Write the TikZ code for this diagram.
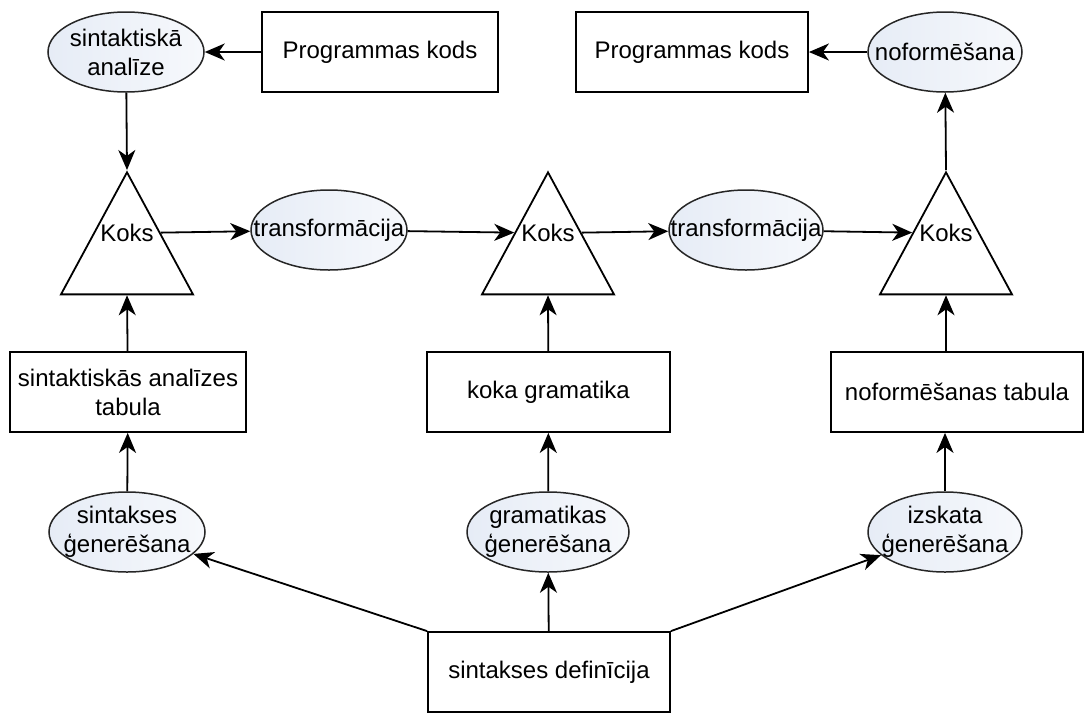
\documentclass[tikz,border=0pt]{standalone}
\usepackage{fontspec}
\setmainfont{Liberation Sans}
\usetikzlibrary{shapes.geometric,arrows.meta,positioning}
\definecolor{ellblue}{RGB}{230,236,246}

\begin{document}
\begin{tikzpicture}[
    x=1pt, y=-1pt,
    font=\fontsize{24}{29}\selectfont,
    box/.style ={
        rectangle,
        draw=black,
        line width=1.8pt,
        minimum height=80pt,
        align=center,
        inner sep=2pt
    },
    act/.style ={
        ellipse,
        draw=black!85,
        line width=1.5pt,
        left color=ellblue,
        right color=ellblue!35,
        minimum width=156pt,
        minimum height=80pt,
        inner sep=0pt,
        label={[align=center, inner sep=0pt]center:#1}
    },
    tree/.style ={
        isosceles triangle,
        isosceles triangle stretches,
        shape border rotate=90,
        draw=black,
        line width=1.8pt,
        minimum width=132pt,
        minimum height=122pt,
        inner sep=0pt,
        anchor=apex
    },
    arr/.style ={-{Stealth[length=20pt,width=17pt,inset=6pt]}, line width=1.8pt}
    ]
    \useasboundingbox (0,0) rectangle (1087,713);

    % top row
    \node[act={sintaktiskā\\analīze}] (parse) at (126,52) {};
    \node[box, minimum width=236pt] (prog1) at (380,52) {Programmas kods};
    \node[box, minimum width=232pt] (prog2) at (692,52) {Programmas kods};
    \node[act=noformēšana, minimum width=154pt] (pretty) at (945,52) {};

    % trees
    \node[tree] (tree1) at (127,170) {};
    \node[tree] (tree2) at (548,170) {};
    \node[tree] (tree3) at (946,170) {};
    \foreach \t in {tree1, tree2, tree3}
        \node (\t txt) at (\t.left side -| \t.apex) {Koks};
    \node[act=transformācija] (trans1) at (329,230) {};
    \node[act=transformācija, minimum width=154pt] (trans2) at (746,230) {};

    % tables
    \node[box, minimum width=236pt] (tab1) at (128,392) {sintaktiskās analīzes\\tabula};
    \node[box, minimum width=243pt] (grambox) at (548.5,392) {koka gramatika};
    \node[box, minimum width=252pt] (ptab) at (957,392) {noformēšanas tabula};

    % generators
    \node[act={sintakses\\ģenerēšana}] (syngen) at (127,532) {};
    \node[act={gramatikas\\ģenerēšana}, minimum width=162pt] (gramgen) at (548,532) {};
    \node[act={izskata\\ģenerēšana}, minimum width=154pt] (viewgen) at (945,532) {};
    \node[box, minimum width=242pt] (def) at (549,672) {sintakses definīcija};

    \foreach \src/ \dst in {prog1/parse, parse/tree1.apex, tree1.right side/trans1,
        trans1/tree2.left side, tree2.right side/trans2, trans2/tree3.left side,
        tree3.apex/pretty, pretty/prog2, tab1/tree1.lower side, syngen/tab1,
        grambox/tree2.lower side, gramgen/grambox, def/gramgen,
        def.north west/syngen, def.north east/viewgen}
        \path[arr] (\src) edge (\dst);
    \draw[arr] (viewgen) -- (viewgen |- ptab.south);
    \draw[arr] (tree3.lower side |- ptab.north) -- (tree3.lower side);
\end{tikzpicture}
\end{document}
